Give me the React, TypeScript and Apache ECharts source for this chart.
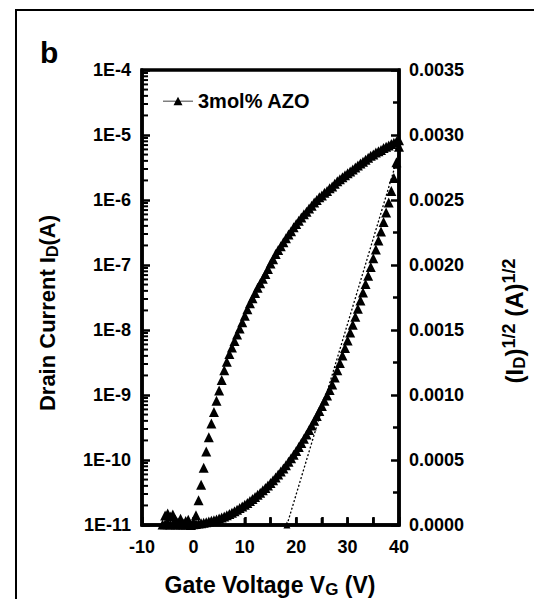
import React, { useEffect, useRef } from "react";
import * as echarts from "echarts";

const FONT = '"Liberation Sans", Arial, Helvetica, sans-serif';

// Gate voltage sweep (V)
const gateVoltage = [
  -6, -5.5, -5, -4.5, -4, -3.5, -3, -2.5, -2, -1.5, -1, -0.5,
  0, 0.5, 1, 1.5, 2, 2.5, 3, 3.5, 4, 4.5, 5, 5.5, 6, 6.5, 7, 7.5, 8, 8.5, 9, 9.5,
  10, 10.5, 11, 11.5, 12, 12.5, 13, 13.5, 14, 14.5, 15, 15.5, 16, 16.5, 17, 17.5,
  18, 18.5, 19, 19.5, 20, 20.5, 21, 21.5, 22, 22.5, 23, 23.5, 24, 24.5, 25, 25.5,
  26, 26.5, 27, 27.5, 28, 28.5, 29, 29.5, 30, 30.5, 31, 31.5, 32, 32.5, 33, 33.5,
  34, 34.5, 35, 35.5, 36, 36.5, 37, 37.5, 38, 38.5, 39, 39.5, 40,
];

// Drain current I_D (A), left log axis
const drainCurrent = [
  0.9e-11, 1.4e-11, 1.5e-11, 1.35e-11, 1.45e-11, 1.2e-11, 1.1e-11, 1.25e-11, 1.05e-11, 1.15e-11, 1.2e-11, 1.0e-11,
  1.05e-11, 1.41e-11, 2.4e-11, 4.17e-11, 7.59e-11, 1.35e-10, 2.24e-10, 3.63e-10, 5.5e-10, 8.13e-10, 1.17e-9, 1.7e-9,
  2.4e-9, 3.24e-9, 4.27e-9, 5.37e-9, 6.76e-9, 8.51e-9, 1.05e-8, 1.32e-8,
  1.66e-8, 2.09e-8, 2.57e-8, 3.09e-8, 3.72e-8, 4.47e-8, 5.25e-8, 6.17e-8, 7.24e-8, 8.71e-8, 1.05e-7, 1.23e-7,
  1.48e-7, 1.7e-7, 1.95e-7, 2.24e-7,
  2.57e-7, 2.95e-7, 3.31e-7, 3.8e-7, 4.27e-7, 4.79e-7, 5.37e-7, 6.03e-7, 6.61e-7, 7.41e-7, 8.13e-7, 9.12e-7,
  1.0e-6, 1.1e-6, 1.17e-6, 1.29e-6,
  1.38e-6, 1.51e-6, 1.62e-6, 1.78e-6, 1.95e-6, 2.09e-6, 2.24e-6, 2.4e-6, 2.57e-6, 2.75e-6, 2.95e-6, 3.16e-6,
  3.39e-6, 3.63e-6, 3.89e-6, 4.17e-6,
  4.47e-6, 4.79e-6, 5.01e-6, 5.37e-6, 5.62e-6, 5.89e-6, 6.31e-6, 6.61e-6, 6.92e-6, 7.24e-6, 7.59e-6, 7.94e-6, 8.32e-6,
];

// Square root of drain current (A^1/2), right linear axis
const sqrtDrainCurrent = [
  0.000004, 0.000006, 0.000005, 0.000004, 0.000006, 0.000003, 0.000005, 0.000004, 0.000003, 0.000004, 0.000005, 0.000004,
  0.000006, 0.000008, 0.000011, 0.000014, 0.000018, 0.000022, 0.000027, 0.000032, 0.000037, 0.000043, 0.00005, 0.000058,
  0.000066, 0.000075, 0.000085, 0.000095, 0.000106, 0.000118, 0.00013, 0.000143,
  0.000156, 0.00017, 0.000185, 0.0002, 0.000216, 0.000232, 0.000249, 0.000267, 0.000285, 0.000304, 0.000324, 0.000345,
  0.000366, 0.000388, 0.000411, 0.000435,
  0.00046, 0.000486, 0.000513, 0.000541, 0.00057, 0.0006, 0.000631, 0.000663, 0.000696, 0.00073, 0.000765, 0.000801,
  0.000838, 0.000876, 0.000915, 0.000955,
  0.000996, 0.001038, 0.00108, 0.001135, 0.00119, 0.001246, 0.001303, 0.001361, 0.00142, 0.00148, 0.00154, 0.001601,
  0.001663, 0.001726, 0.001789, 0.001853,
  0.001918, 0.001984, 0.002051, 0.002119, 0.002188, 0.002258, 0.00233, 0.002404, 0.00248, 0.00257, 0.00267, 0.00279, 0.00291,
];

// Linear extrapolation of sqrt(I_D) to the threshold voltage
const fitLineVoltage = [18.2, 40];
const fitLineValue = [0, 0.00286];

const xTickLabels = ["-10", "0", "10", "20", "30", "40"];
const xTickPositions = [-5, 0, 5, 10, 15, 20, 25, 30, 35];
const leftTickLabels = ["1E-11", "1E-10", "1E-9", "1E-8", "1E-7", "1E-6", "1E-5", "1E-4"];
const rightTickLabels = ["0.0000", "0.0005", "0.0010", "0.0015", "0.0020", "0.0025", "0.0030", "0.0035"];
const logDecades = [-11, -10, -9, -8, -7, -6, -5];
const logMinorMultipliers = [2, 3, 4, 5, 6, 7, 8, 9];

const seriesName = "3mol% AZO";

export default function App() {
  const ref = useRef<HTMLDivElement>(null);

  useEffect(() => {
    if (!ref.current) return;
    const chart = echarts.init(ref.current, undefined, { renderer: "svg" });

    const idData = gateVoltage.map((v, i) => [v, drainCurrent[i]]);
    const sqrtData = gateVoltage.map((v, i) => [v, sqrtDrainCurrent[i]]);
    const minorTickData: number[][] = [];
    logDecades.forEach((d) =>
      logMinorMultipliers.forEach((m) => minorTickData.push([-10, m * Math.pow(10, d)]))
    );
    const xTickData = xTickPositions.map((v) => [v, 1e-11]);

    const labelStyle = {
      fontFamily: FONT,
      fontWeight: "bold" as const,
      fontSize: 18,
      color: "#000",
    };
    const axisLine = { show: true, onZero: false, lineStyle: { color: "#000", width: 3.5 } };
    const tickStyle = { color: "#000", width: 2.5 };

    chart.setOption({
      animation: false,
      backgroundColor: "#fff",
      grid: {
        left: 142,
        right: 135,
        top: 70,
        bottom: 74,
        show: true,
        borderColor: "#000",
        borderWidth: 3.5,
        backgroundColor: "transparent",
      },
      legend: {
        left: 163,
        top: 91,
        padding: 0,
        itemWidth: 30,
        itemHeight: 9,
        itemGap: 6,
        data: [
          {
            name: seriesName,
            icon: "path://M0,4.3 L30,4.3 L30,5.1 L0,5.1 Z M15,0.5 L19.5,8.8 L10.5,8.8 Z",
          },
        ],
        textStyle: { fontFamily: FONT, fontWeight: "bold", fontSize: 20, color: "#000" },
      },
      xAxis: {
        type: "value",
        min: -10,
        max: 40,
        interval: 10,
        axisLine,
        axisTick: { show: true, inside: true, length: 8, lineStyle: tickStyle },
        minorTick: { show: true, splitNumber: 2, length: 8, lineStyle: tickStyle },
        splitLine: { show: false },
        axisLabel: {
          ...labelStyle,
          margin: 13,
          formatter: (v: number) => xTickLabels[Math.round((v + 10) / 10)] ?? String(v),
        },
      },
      yAxis: [
        {
          type: "log",
          logBase: 10,
          min: 1e-11,
          max: 1e-4,
          position: "left",
          axisLine,
          axisTick: { show: true, inside: true, length: 8, lineStyle: tickStyle },
          minorTick: { show: false },
          splitLine: { show: false },
          axisLabel: {
            ...labelStyle,
            margin: 11,
            formatter: (v: number) => leftTickLabels[Math.round(Math.log10(v)) + 11] ?? "",
          },
        },
        {
          type: "value",
          min: 0,
          max: 0.0035,
          interval: 0.0005,
          position: "right",
          axisLine,
          axisTick: { show: true, inside: true, length: 8, lineStyle: tickStyle },
          minorTick: { show: true, splitNumber: 2, length: 6, lineStyle: tickStyle },
          splitLine: { show: false },
          axisLabel: {
            ...labelStyle,
            margin: 10,
            formatter: (v: number) => rightTickLabels[Math.round(v / 0.0005)] ?? "",
          },
        },
      ],
      series: [
        {
          name: seriesName,
          type: "scatter",
          yAxisIndex: 0,
          symbol: "triangle",
          symbolSize: 10,
          itemStyle: { color: "#000", opacity: 1 },
          data: idData,
          z: 3,
        },
        {
          name: "sqrt(I_D)",
          type: "scatter",
          yAxisIndex: 1,
          symbol: "triangle",
          symbolSize: 10,
          itemStyle: { color: "#000", opacity: 1 },
          data: sqrtData,
          z: 3,
        },
        {
          name: "fit",
          type: "line",
          yAxisIndex: 1,
          data: [
            { value: [fitLineVoltage[0], fitLineValue[0]], symbol: "triangle", symbolSize: 7 },
            { value: [fitLineVoltage[1], fitLineValue[1]], symbol: "none" },
          ],
          showSymbol: true,
          itemStyle: { color: "#000" },
          lineStyle: { color: "#000", width: 1.3, type: [2, 2] },
          z: 2,
        },
        {
          name: "logMinorTicks",
          type: "custom",
          xAxisIndex: 0,
          yAxisIndex: 0,
          silent: true,
          clip: false,
          data: minorTickData,
          renderItem: (_params: any, api: any) => {
            const p = api.coord([api.value(0), api.value(1)]);
            return {
              type: "line",
              shape: { x1: p[0], y1: p[1], x2: p[0] + 6, y2: p[1] },
              style: { stroke: "#000", lineWidth: 2 },
            };
          },
          z: 4,
        },
        {
          name: "xTicks",
          type: "custom",
          xAxisIndex: 0,
          yAxisIndex: 0,
          silent: true,
          clip: false,
          data: xTickData,
          renderItem: (_params: any, api: any) => {
            const p = api.coord([api.value(0), api.value(1)]);
            return {
              type: "line",
              shape: { x1: p[0], y1: p[1], x2: p[0], y2: p[1] - 7 },
              style: { stroke: "#000", lineWidth: 2.5 },
            };
          },
          z: 4,
        },
      ],
      graphic: [
        {
          type: "rect",
          shape: { x: 16, y: 10, width: 700, height: 800 },
          style: { fill: "none", stroke: "#000", lineWidth: 2 },
          silent: true,
        },
        {
          type: "text",
          left: 40,
          top: 37,
          style: { text: "b", fontFamily: FONT, fontWeight: "bold", fontSize: 30, fill: "#000" },
        },
        {
          type: "text",
          x: 47,
          y: 313,
          rotation: Math.PI / 2,
          style: {
            text: "{m|Drain Current I}{s|D}{m|(A)}",
            align: "center",
            verticalAlign: "middle",
            rich: {
              m: { fontFamily: FONT, fontWeight: "bold", fontSize: 22, lineHeight: 26, fill: "#000" },
              s: { fontFamily: FONT, fontWeight: "bold", fontSize: 16, lineHeight: 12, verticalAlign: "bottom", fill: "#000" },
            },
          },
        },
        {
          type: "text",
          x: 514,
          y: 321,
          rotation: Math.PI / 2,
          style: {
            text: "{m|(I}{s|D}{m|)}{p|1/2}{m| (A)}{p|1/2}",
            align: "center",
            verticalAlign: "middle",
            rich: {
              m: { fontFamily: FONT, fontWeight: "bold", fontSize: 24, lineHeight: 28, fill: "#000" },
              s: { fontFamily: FONT, fontWeight: "bold", fontSize: 17, lineHeight: 13, verticalAlign: "bottom", fill: "#000" },
              p: { fontFamily: FONT, fontWeight: "bold", fontSize: 18, lineHeight: 13, verticalAlign: "top", fill: "#000" },
            },
          },
        },
        {
          type: "text",
          x: 270,
          y: 585,
          style: {
            text: "{m|Gate Voltage V}{s|G}{m| (V)}",
            align: "center",
            verticalAlign: "middle",
            rich: {
              m: { fontFamily: FONT, fontWeight: "bold", fontSize: 23, lineHeight: 26, fill: "#000" },
              s: { fontFamily: FONT, fontWeight: "bold", fontSize: 17, lineHeight: 12, verticalAlign: "bottom", fill: "#000" },
            },
          },
        },
      ],
    });

    return () => chart.dispose();
  }, []);

  return (
    <div
      ref={ref}
      style={{ position: "fixed", left: 0, top: 0, width: 534, height: 599, background: "#fff" }}
    />
  );
}
